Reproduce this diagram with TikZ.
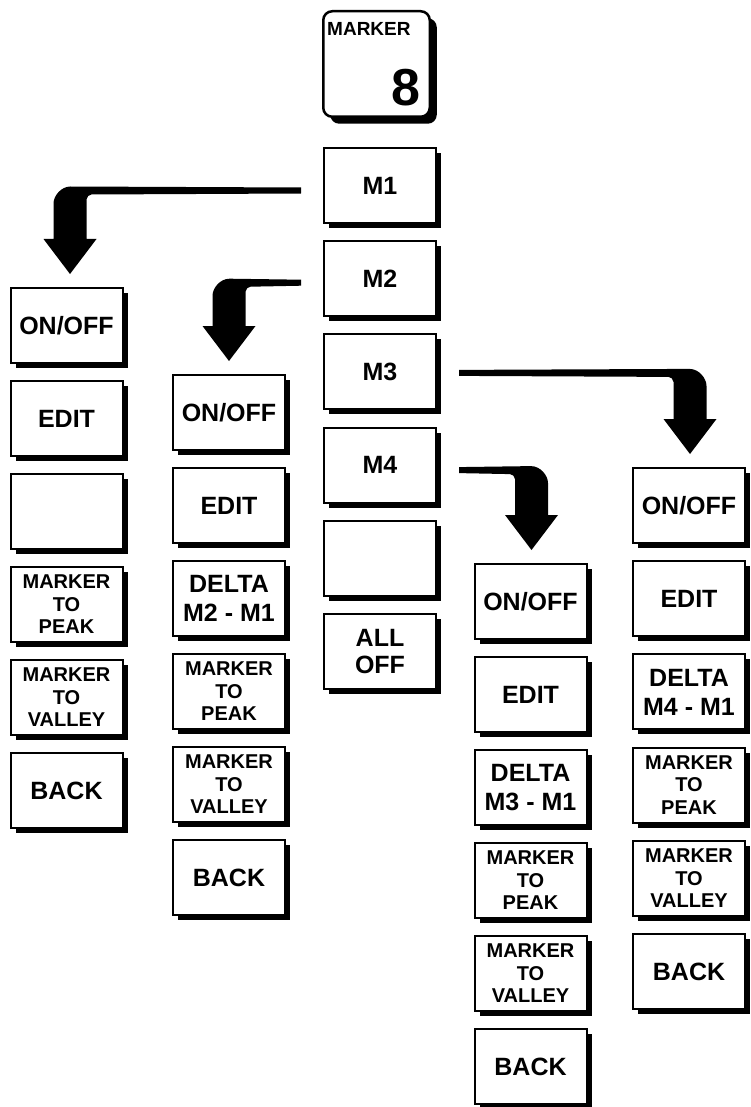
\documentclass[tikz,border=0pt]{standalone}
\usepackage{fontspec}
\setmainfont{Liberation Sans}
\usetikzlibrary{shadows,calc}
\newcommand\arrowL[4]{% source, target, y offset (down), x shift
 \fill let \p1=(#1.west), \p2=(#2.north) in
   (\x1-22pt, \y1-#3pt+3pt) -- (\x2+#4pt-16.5pt+17pt, \y1-#3pt+4pt)
   .. controls (\x2+#4pt-16.5pt+7.6pt, \y1-#3pt+4pt) and (\x2+#4pt-16.5pt, \y1-#3pt+4pt-9.4pt) .. (\x2+#4pt-16.5pt, \y1-#3pt+4pt-17pt)
   -- (\x2+#4pt-16.5pt, \y2+48pt) -- (\x2+#4pt-26.5pt, \y2+48pt) -- (\x2+#4pt, \y2+13pt) -- (\x2+#4pt+26.5pt, \y2+48pt) -- (\x2+#4pt+16.5pt, \y2+48pt)
   -- (\x2+#4pt+16.5pt, \y1-#3pt-9pt) .. controls (\x2+#4pt+16.5pt, \y1-#3pt-6.2pt) and (\x2+#4pt+16.5pt+2.8pt, \y1-#3pt-4pt) .. (\x2+#4pt+16.5pt+5pt, \y1-#3pt-4pt)
   -- (\x1-22pt, \y1-#3pt-3pt) -- cycle;}
\newcommand\arrowR[4]{% source, target, y offset (down), x shift
 \fill let \p1=(#1.east), \p2=(#2.north) in
   (\x1+22pt, \y1-#3pt+3pt) -- (\x2+#4pt+16.5pt-17pt, \y1-#3pt+4pt)
   .. controls (\x2+#4pt+16.5pt-7.6pt, \y1-#3pt+4pt) and (\x2+#4pt+16.5pt, \y1-#3pt+4pt-9.4pt) .. (\x2+#4pt+16.5pt, \y1-#3pt+4pt-17pt)
   -- (\x2+#4pt+16.5pt, \y2+48pt) -- (\x2+#4pt+26.5pt, \y2+48pt) -- (\x2+#4pt, \y2+13pt) -- (\x2+#4pt-26.5pt, \y2+48pt) -- (\x2+#4pt-16.5pt, \y2+48pt)
   -- (\x2+#4pt-16.5pt, \y1-#3pt-9pt) .. controls (\x2+#4pt-16.5pt, \y1-#3pt-6.2pt) and (\x2+#4pt-16.5pt-2.8pt, \y1-#3pt-4pt) .. (\x2+#4pt-16.5pt-5pt, \y1-#3pt-4pt)
   -- (\x1+22pt, \y1-#3pt-3pt) -- cycle;}
\begin{document}
\begin{tikzpicture}[x=1pt,y=-1pt,
  btn/.style={draw=black, line width=2pt, fill=white, minimum width=112pt, minimum height=75pt,
    inner sep=0pt, align=center, font=\bfseries\fontsize{25}{29}\selectfont,
    drop shadow={shadow xshift=5pt, shadow yshift=-5pt, opacity=1, fill=black}},
  sml/.style={font=\bfseries\fontsize{20}{22.5}\selectfont},
  keybox/.style={draw=black, line width=2.5pt, fill=white, rounded corners=9pt,
    minimum width=106.5pt, minimum height=105.5pt, inner sep=0pt,
    drop shadow={shadow xshift=7pt, shadow yshift=-7pt, opacity=1, fill=black}},
]
\useasboundingbox (0,0) rectangle (750,1107);
\fill[white] (0,0) rectangle (750,1107);

% key
\node[keybox] (key) at (376.5,64) {};
\node[anchor=base west, inner sep=0pt, font=\bfseries\fontsize{19}{19}\selectfont] (keylbl) at (327,36) {MARKER};
\node[anchor=base east, inner sep=0pt, font=\bfseries\fontsize{52}{52}\selectfont] (keynum) at (421,106) {8};

% middle column
\node[btn] (m1) at (380,185.5) {M1};
\node[btn] (m2) at (380,278.7) {M2};
\node[btn] (m3) at (380,371.9) {M3};
\node[btn] (m4) at (380,465.1) {M4};
\node[btn] (mb) at (380,558.3) {};
\node[btn] (mall) at (380,651.5) {ALL\\[-2pt]OFF};

% column 1 (M1)
\node[btn] (a1) at (66.5,325.5) {ON/OFF};
\node[btn] (a2) at (66.5,418.5) {EDIT};
\node[btn] (a3) at (66.5,511.5) {};
\node[btn, sml] (a4) at (66.5,604.5) {MARKER\\TO\\PEAK};
\node[btn, sml] (a5) at (66.5,697.5) {MARKER\\TO\\VALLEY};
\node[btn] (a6) at (66.5,790.5) {BACK};

% column 2 (M2)
\node[btn] (b1) at (229,412.5) {ON/OFF};
\node[btn] (b2) at (229,505.5) {EDIT};
\node[btn] (b3) at (229,598.5) {DELTA\\M2 - M1};
\node[btn, sml] (b4) at (229,691.5) {MARKER\\TO\\PEAK};
\node[btn, sml] (b5) at (229,784.5) {MARKER\\TO\\VALLEY};
\node[btn] (b6) at (229,877.5) {BACK};

% column 3 (M4)
\node[btn] (c1) at (530.5,601.5) {ON/OFF};
\node[btn] (c2) at (530.5,694.5) {EDIT};
\node[btn] (c3) at (530.5,787.5) {DELTA\\M3 - M1};
\node[btn, sml] (c4) at (530.5,880.5) {MARKER\\TO\\PEAK};
\node[btn, sml] (c5) at (530.5,973.5) {MARKER\\TO\\VALLEY};
\node[btn] (c6) at (530.5,1066.5) {BACK};

% column 4 (M3)
\node[btn] (d1) at (689,505.5) {ON/OFF};
\node[btn] (d2) at (689,598.7) {EDIT};
\node[btn] (d3) at (689,691.9) {DELTA\\M4 - M1};
\node[btn, sml] (d4) at (689,785.1) {MARKER\\TO\\PEAK};
\node[btn, sml] (d5) at (689,878.3) {MARKER\\TO\\VALLEY};
\node[btn] (d6) at (689,971.5) {BACK};

% arrows
\arrowL{m1}{a1}{5}{3.5}
\arrowL{m2}{b1}{4}{0}
\arrowR{m3}{d1}{1}{1}
\arrowR{m4}{c1}{5}{1}
\end{tikzpicture}
\end{document}
